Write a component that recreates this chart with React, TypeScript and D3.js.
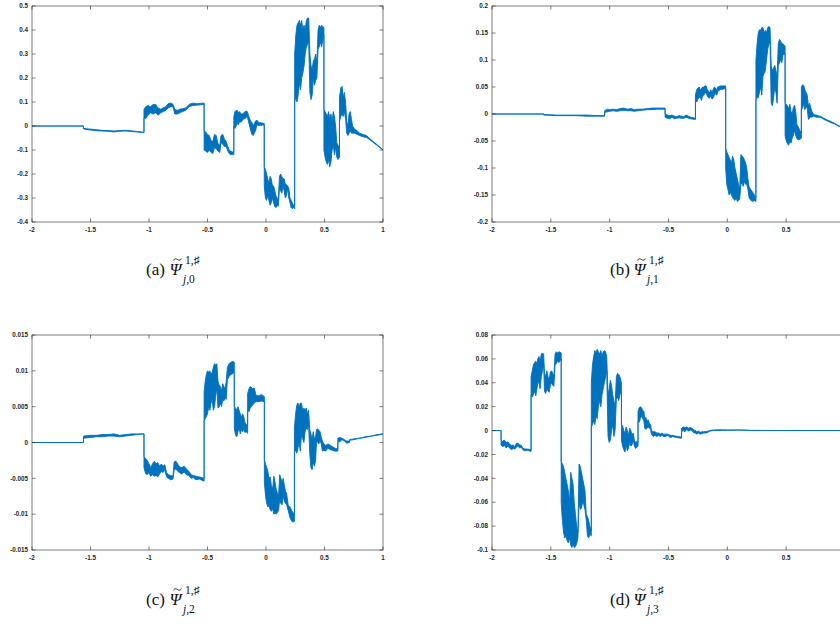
import React from "react";
import * as d3 from "d3";

type Pt = [number, number, number]; // [x, low, high]

const xTicks = [-2, -1.5, -1, -0.5, 0, 0.5, 1];
const yTicksA = [-0.4, -0.3, -0.2, -0.1, 0, 0.1, 0.2, 0.3, 0.4, 0.5];
const yTicksB = [-0.2, -0.15, -0.1, -0.05, 0, 0.05, 0.1, 0.15, 0.2];
const yTicksC = [-0.015, -0.01, -0.005, 0, 0.005, 0.01, 0.015];
const yTicksD = [-0.1, -0.08, -0.06, -0.04, -0.02, 0, 0.02, 0.04, 0.06, 0.08];

const psiA: Pt[] = [
  [-2, 0, 0], [-1.56, 0, 0], [-1.56, -0.012, -0.01], [-1.52, -0.016, -0.012], [-1.48, -0.018, -0.014],
  [-1.44, -0.02, -0.016], [-1.4, -0.021, -0.018], [-1.35, -0.022, -0.019], [-1.3, -0.025, -0.021],
  [-1.26, -0.022, -0.019], [-1.2, -0.021, -0.018], [-1.15, -0.023, -0.02], [-1.1, -0.025, -0.023],
  [-1.043, -0.028, -0.026],
  [-1.043, 0.033, 0.068], [-1.029, 0.03, 0.08], [-1.009, 0.045, 0.085], [-0.986, 0.055, 0.08],
  [-0.966, 0.05, 0.09], [-0.943, 0.055, 0.09], [-0.923, 0.045, 0.075], [-0.9, 0.055, 0.07],
  [-0.88, 0.06, 0.075], [-0.857, 0.065, 0.08], [-0.837, 0.075, 0.093], [-0.814, 0.08, 0.096],
  [-0.794, 0.08, 0.09], [-0.78, 0.05, 0.07], [-0.757, 0.05, 0.065], [-0.737, 0.055, 0.07],
  [-0.714, 0.06, 0.072], [-0.686, 0.065, 0.075], [-0.657, 0.08, 0.09], [-0.629, 0.085, 0.095],
  [-0.586, 0.087, 0.093], [-0.529, 0.09, 0.096],
  [-0.529, -0.1, -0.02], [-0.515, -0.105, -0.025], [-0.5, -0.11, -0.035], [-0.485, -0.1, -0.04],
  [-0.47, -0.11, -0.06], [-0.455, -0.115, -0.065], [-0.44, -0.09, -0.035], [-0.425, -0.095, -0.04],
  [-0.41, -0.105, -0.075], [-0.395, -0.11, -0.08], [-0.385, -0.07, -0.04], [-0.37, -0.075, -0.035],
  [-0.355, -0.085, -0.055], [-0.34, -0.085, -0.065], [-0.33, -0.1, -0.08], [-0.315, -0.115, -0.1],
  [-0.3, -0.12, -0.105], [-0.285, -0.118, -0.108], [-0.275, -0.12, -0.11],
  [-0.275, 0.0, 0.04], [-0.265, -0.01, 0.06], [-0.255, 0.0, 0.065], [-0.245, 0.01, 0.065],
  [-0.235, 0.005, 0.055], [-0.225, 0.02, 0.06], [-0.215, 0.015, 0.05], [-0.2, 0.025, 0.05],
  [-0.19, 0.03, 0.055], [-0.18, 0.03, 0.06], [-0.17, 0.035, 0.062], [-0.16, 0.04, 0.06],
  [-0.15, 0.02, 0.045], [-0.14, 0.0, 0.03], [-0.13, -0.02, 0.02], [-0.12, -0.035, 0.015],
  [-0.11, -0.04, 0.0], [-0.1, -0.03, 0.01], [-0.09, -0.02, 0.02], [-0.08, 0.0, 0.025],
  [-0.07, 0.005, 0.02], [-0.06, 0.0, 0.012], [-0.05, 0.005, 0.015], [-0.04, 0.0, 0.013],
  [-0.03, 0.005, 0.012], [-0.015, 0.003, 0.01],
  [-0.015, -0.25, -0.17], [-0.005, -0.3, -0.18], [0.005, -0.31, -0.2], [0.015, -0.29, -0.22],
  [0.025, -0.31, -0.24], [0.035, -0.33, -0.21], [0.045, -0.32, -0.22], [0.055, -0.3, -0.25],
  [0.065, -0.32, -0.25], [0.075, -0.335, -0.27], [0.085, -0.34, -0.29], [0.095, -0.33, -0.3],
  [0.105, -0.335, -0.31], [0.115, -0.26, -0.21], [0.125, -0.27, -0.2], [0.135, -0.28, -0.21],
  [0.145, -0.25, -0.22], [0.155, -0.27, -0.22], [0.165, -0.3, -0.24], [0.175, -0.29, -0.245],
  [0.185, -0.26, -0.25], [0.195, -0.3, -0.26], [0.205, -0.32, -0.3], [0.215, -0.34, -0.31],
  [0.225, -0.345, -0.32], [0.235, -0.34, -0.33], [0.245, -0.345, -0.33],
  [0.245, 0.1, 0.3], [0.255, 0.12, 0.38], [0.265, 0.1, 0.42], [0.275, 0.13, 0.43],
  [0.285, 0.18, 0.44], [0.295, 0.15, 0.42], [0.305, 0.2, 0.44], [0.315, 0.22, 0.4],
  [0.325, 0.25, 0.42], [0.335, 0.3, 0.4], [0.345, 0.33, 0.44], [0.355, 0.34, 0.45],
  [0.365, 0.35, 0.45], [0.375, 0.14, 0.3], [0.385, 0.11, 0.25], [0.395, 0.13, 0.24],
  [0.405, 0.2, 0.27], [0.415, 0.17, 0.28], [0.425, 0.19, 0.3], [0.435, 0.2, 0.26],
  [0.445, 0.32, 0.4], [0.455, 0.33, 0.42], [0.465, 0.35, 0.41], [0.475, 0.33, 0.42], [0.495, 0.38, 0.41],
  [0.495, -0.1, 0.07], [0.505, -0.13, 0.06], [0.515, -0.15, 0.05], [0.525, -0.16, 0.04],
  [0.535, -0.14, 0.06], [0.545, -0.17, 0.03], [0.555, -0.15, 0.05], [0.565, -0.1, 0.02],
  [0.575, -0.08, 0.06], [0.585, -0.12, 0.04], [0.595, -0.09, 0.0], [0.605, -0.13, -0.07],
  [0.615, -0.14, -0.08], [0.628, -0.13, -0.09],
  [0.628, 0.02, 0.12], [0.64, 0.04, 0.16], [0.65, 0.05, 0.165], [0.66, 0.04, 0.12],
  [0.67, 0.06, 0.14], [0.68, 0.03, 0.1], [0.69, -0.03, 0.02], [0.7, -0.04, 0.0],
  [0.71, -0.03, 0.05], [0.72, -0.02, 0.06], [0.73, -0.03, 0.03], [0.74, -0.03, 0.0],
  [0.76, -0.03, -0.015], [0.78, -0.035, -0.02], [0.8, -0.04, -0.03], [0.83, -0.045, -0.035],
  [0.86, -0.048, -0.04], [0.9, -0.062, -0.058], [0.95, -0.081, -0.078], [1.0, -0.1, -0.1],
];

const psiB: Pt[] = [
  [-2, 0, 0], [-1.56, 0, 0], [-1.56, -0.002, -0.001], [-1.45, -0.003, -0.002], [-1.3, -0.003, -0.002],
  [-1.2, -0.004, -0.002], [-1.1, -0.004, -0.003], [-1.043, -0.004, -0.003],
  [-1.043, 0.003, 0.006], [-1.02, 0.004, 0.009], [-1.0, 0.005, 0.008], [-0.97, 0.006, 0.009],
  [-0.94, 0.005, 0.008], [-0.91, 0.006, 0.01], [-0.88, 0.007, 0.011], [-0.85, 0.006, 0.009],
  [-0.82, 0.006, 0.01], [-0.79, 0.005, 0.008], [-0.76, 0.006, 0.009], [-0.72, 0.007, 0.009],
  [-0.68, 0.008, 0.01], [-0.64, 0.008, 0.011], [-0.6, 0.009, 0.011], [-0.529, 0.009, 0.011],
  [-0.529, -0.006, 0.0], [-0.51, -0.008, -0.002], [-0.49, -0.009, -0.003], [-0.47, -0.006, -0.002],
  [-0.45, -0.009, -0.004], [-0.43, -0.008, -0.005], [-0.41, -0.007, -0.003], [-0.39, -0.008, -0.004],
  [-0.37, -0.008, -0.005], [-0.35, -0.006, -0.002], [-0.33, -0.008, -0.004], [-0.31, -0.009, -0.006],
  [-0.271, -0.01, -0.008],
  [-0.271, 0.025, 0.035], [-0.26, 0.022, 0.045], [-0.25, 0.028, 0.048], [-0.24, 0.03, 0.05],
  [-0.23, 0.032, 0.045], [-0.22, 0.025, 0.047], [-0.21, 0.033, 0.05], [-0.2, 0.035, 0.05],
  [-0.19, 0.038, 0.052], [-0.18, 0.04, 0.052], [-0.17, 0.033, 0.045], [-0.16, 0.03, 0.042],
  [-0.15, 0.03, 0.04], [-0.14, 0.033, 0.045], [-0.13, 0.028, 0.04], [-0.12, 0.03, 0.046],
  [-0.11, 0.035, 0.05], [-0.1, 0.038, 0.048], [-0.09, 0.035, 0.045], [-0.08, 0.042, 0.05],
  [-0.06, 0.045, 0.052], [-0.04, 0.046, 0.052], [-0.014, 0.047, 0.052],
  [-0.014, -0.1, -0.063], [-0.005, -0.13, -0.07], [0.005, -0.14, -0.075], [0.015, -0.15, -0.08],
  [0.025, -0.145, -0.085], [0.035, -0.15, -0.09], [0.045, -0.155, -0.078], [0.055, -0.158, -0.085],
  [0.065, -0.16, -0.1], [0.075, -0.155, -0.11], [0.085, -0.162, -0.12], [0.095, -0.16, -0.13],
  [0.105, -0.158, -0.14], [0.115, -0.13, -0.075], [0.125, -0.128, -0.078], [0.135, -0.134, -0.08],
  [0.145, -0.125, -0.085], [0.155, -0.13, -0.09], [0.165, -0.13, -0.1], [0.175, -0.14, -0.12],
  [0.185, -0.155, -0.135], [0.2, -0.16, -0.14], [0.215, -0.162, -0.145], [0.23, -0.16, -0.15],
  [0.243, -0.162, -0.155],
  [0.243, 0.027, 0.1], [0.253, 0.03, 0.13], [0.263, 0.03, 0.15], [0.273, 0.04, 0.156],
  [0.283, 0.05, 0.155], [0.293, 0.035, 0.16], [0.303, 0.07, 0.16], [0.313, 0.075, 0.15],
  [0.323, 0.08, 0.155], [0.333, 0.1, 0.15], [0.343, 0.12, 0.16], [0.353, 0.13, 0.162],
  [0.363, 0.13, 0.16], [0.373, 0.02, 0.09], [0.383, 0.015, 0.08], [0.393, 0.03, 0.085],
  [0.403, 0.05, 0.09], [0.413, 0.04, 0.08], [0.423, 0.02, 0.07], [0.433, 0.09, 0.13],
  [0.443, 0.095, 0.138], [0.453, 0.1, 0.135], [0.463, 0.095, 0.13], [0.473, 0.11, 0.13],
  [0.491, 0.11, 0.125],
  [0.491, -0.04, 0.02], [0.501, -0.05, 0.018], [0.511, -0.055, 0.015], [0.521, -0.058, 0.01],
  [0.531, -0.05, 0.018], [0.541, -0.054, 0.005], [0.551, -0.045, 0.0], [0.561, -0.04, 0.012],
  [0.571, -0.03, 0.016], [0.581, -0.04, 0.005], [0.591, -0.045, -0.02], [0.601, -0.048, -0.023],
  [0.615, -0.047, -0.03], [0.629, -0.045, -0.035],
  [0.629, 0.01, 0.05], [0.639, 0.01, 0.054], [0.649, 0.02, 0.053], [0.659, 0.008, 0.045],
  [0.669, 0.015, 0.04], [0.679, 0.01, 0.035], [0.689, -0.01, 0.015], [0.699, -0.008, 0.02],
  [0.709, -0.005, 0.012], [0.719, -0.006, 0.005], [0.73, -0.004, 0.0], [0.745, -0.005, -0.002],
  [0.76, -0.006, -0.002], [0.78, -0.006, -0.004], [0.8, -0.007, -0.005], [0.82, -0.01, -0.008],
  [0.85, -0.013, -0.011], [0.88, -0.016, -0.014], [0.91, -0.018, -0.017], [0.94, -0.022, -0.021],
  [0.97, -0.025, -0.024], [1.0, -0.028, -0.028],
];

const psiC: Pt[] = [
  [-2, 0, 0], [-1.56, 0, 0], [-1.56, 0.0006, 0.0009], [-1.5, 0.0007, 0.001], [-1.45, 0.0008, 0.001],
  [-1.4, 0.0008, 0.0011], [-1.35, 0.0009, 0.0011], [-1.3, 0.0009, 0.0012], [-1.25, 0.0008, 0.001],
  [-1.2, 0.0009, 0.0011], [-1.15, 0.001, 0.0012], [-1.1, 0.0011, 0.0012], [-1.043, 0.0012, 0.0012],
  [-1.043, -0.0035, -0.002], [-1.03, -0.0043, -0.0022], [-1.015, -0.0045, -0.0025], [-1.0, -0.0042, -0.003],
  [-0.986, -0.0047, -0.0035], [-0.97, -0.0045, -0.003], [-0.955, -0.0047, -0.0026], [-0.94, -0.0046, -0.003],
  [-0.925, -0.0048, -0.0028], [-0.91, -0.0044, -0.0033], [-0.895, -0.004, -0.003], [-0.88, -0.0042, -0.0033],
  [-0.865, -0.0038, -0.0031], [-0.85, -0.0048, -0.0042], [-0.835, -0.005, -0.0045], [-0.815, -0.0052, -0.0046],
  [-0.795, -0.0051, -0.0047], [-0.785, -0.0038, -0.0027], [-0.77, -0.0037, -0.0026], [-0.755, -0.004, -0.003],
  [-0.74, -0.0042, -0.0034], [-0.72, -0.0044, -0.0035], [-0.7, -0.0041, -0.0033], [-0.68, -0.0045, -0.0037],
  [-0.66, -0.0046, -0.004], [-0.64, -0.005, -0.0045], [-0.62, -0.0049, -0.0046], [-0.6, -0.0052, -0.0047],
  [-0.57, -0.0051, -0.0048], [-0.529, -0.0054, -0.005],
  [-0.529, 0.003, 0.007], [-0.52, 0.0033, 0.0085], [-0.51, 0.0036, 0.0095], [-0.5, 0.004, 0.01],
  [-0.49, 0.005, 0.0098], [-0.48, 0.0045, 0.01], [-0.47, 0.0055, 0.0095], [-0.46, 0.006, 0.0098],
  [-0.45, 0.0045, 0.0105], [-0.44, 0.005, 0.011], [-0.43, 0.0065, 0.0108], [-0.42, 0.0075, 0.011],
  [-0.41, 0.0048, 0.0085], [-0.4, 0.005, 0.008], [-0.39, 0.0055, 0.0078], [-0.38, 0.005, 0.0072],
  [-0.37, 0.006, 0.0082], [-0.36, 0.0058, 0.0078], [-0.35, 0.0062, 0.0075], [-0.34, 0.006, 0.0085],
  [-0.33, 0.0088, 0.0105], [-0.315, 0.0092, 0.011], [-0.3, 0.0095, 0.0112], [-0.285, 0.0096, 0.0113],
  [-0.271, 0.0098, 0.0112],
  [-0.271, 0.002, 0.005], [-0.26, 0.001, 0.0048], [-0.25, 0.0008, 0.0045], [-0.24, 0.0015, 0.005],
  [-0.23, 0.002, 0.0045], [-0.22, 0.0012, 0.004], [-0.21, 0.0018, 0.0035], [-0.2, 0.0015, 0.004],
  [-0.19, 0.0018, 0.0036], [-0.18, 0.0014, 0.0028], [-0.17, 0.0015, 0.0025], [-0.157, 0.0013, 0.0024],
  [-0.157, 0.0045, 0.0068], [-0.145, 0.0043, 0.0075], [-0.135, 0.0048, 0.0078], [-0.125, 0.005, 0.0077],
  [-0.115, 0.0052, 0.0075], [-0.1, 0.0055, 0.0076], [-0.086, 0.0057, 0.0066], [-0.06, 0.0057, 0.0065],
  [-0.04, 0.0058, 0.0067], [-0.014, 0.0057, 0.0064],
  [-0.014, -0.0055, -0.0024], [-0.004, -0.0075, -0.003], [0.006, -0.0085, -0.0035], [0.016, -0.009, -0.004],
  [0.026, -0.0088, -0.005], [0.036, -0.0094, -0.0048], [0.046, -0.0096, -0.006], [0.057, -0.0092, -0.0065],
  [0.067, -0.01, -0.0047], [0.077, -0.0098, -0.0055], [0.087, -0.01, -0.0065], [0.097, -0.0098, -0.007],
  [0.107, -0.0095, -0.0075], [0.117, -0.008, -0.0045], [0.127, -0.0085, -0.005], [0.137, -0.0087, -0.0055],
  [0.147, -0.0075, -0.005], [0.157, -0.0082, -0.006], [0.167, -0.0085, -0.0068], [0.177, -0.0087, -0.0072],
  [0.19, -0.0095, -0.0088], [0.205, -0.0105, -0.009], [0.22, -0.011, -0.0095], [0.232, -0.0111, -0.0098],
  [0.243, -0.011, -0.0102],
  [0.243, -0.0015, 0.002], [0.253, -0.001, 0.004], [0.263, -0.0015, 0.0052], [0.273, -0.0008, 0.0055],
  [0.283, 0.0, 0.005], [0.293, -0.0012, 0.0055], [0.303, 0.001, 0.0055], [0.314, 0.0005, 0.0045],
  [0.324, 0.0, 0.0048], [0.334, 0.0015, 0.0045], [0.344, 0.002, 0.0048], [0.354, 0.0018, 0.004],
  [0.364, 0.0025, 0.0045], [0.374, -0.0015, 0.0018], [0.384, -0.0035, 0.0012], [0.394, -0.0038, 0.0005],
  [0.404, -0.0028, 0.0015], [0.414, -0.0033, 0.0005], [0.424, -0.0025, 0.0008], [0.432, 0.0002, 0.0018],
  [0.442, 0.0, 0.0019], [0.452, -0.0002, 0.0017], [0.462, 0.0003, 0.0015], [0.472, -0.0002, 0.0008],
  [0.482, -0.0012, 0.0002], [0.495, -0.0011, -0.0002], [0.51, -0.0012, -0.0004], [0.53, -0.0008, -0.0002],
  [0.55, -0.001, -0.0004], [0.57, -0.0011, -0.0006], [0.59, -0.0012, -0.0008], [0.614, -0.0012, -0.0009],
  [0.614, 0.0001, 0.0006], [0.63, 0.0001, 0.0007], [0.65, 0.0004, 0.0006], [0.67, 0.0002, 0.0004],
  [0.69, -0.0001, 0.0002], [0.714, 0.0, 0.0002], [0.714, 0.0003, 0.0004], [0.75, 0.0004, 0.0005],
  [0.8, 0.0006, 0.0006], [0.85, 0.0007, 0.0008], [0.9, 0.0009, 0.0009], [0.95, 0.001, 0.0011],
  [1.0, 0.0012, 0.0012],
];

const psiD: Pt[] = [
  [-2, 0, 0], [-1.923, 0, 0],
  [-1.923, -0.012, -0.008], [-1.91, -0.0135, -0.009], [-1.895, -0.0125, -0.008], [-1.88, -0.0145, -0.01],
  [-1.865, -0.013, -0.0095], [-1.852, -0.0145, -0.011], [-1.835, -0.016, -0.0125], [-1.82, -0.015, -0.012],
  [-1.805, -0.0155, -0.0135], [-1.795, -0.014, -0.011], [-1.78, -0.013, -0.0105], [-1.765, -0.0145, -0.012],
  [-1.75, -0.014, -0.0125], [-1.739, -0.016, -0.0145], [-1.72, -0.017, -0.0155], [-1.7, -0.0165, -0.0155],
  [-1.668, -0.0175, -0.016],
  [-1.668, 0.03, 0.045], [-1.658, 0.028, 0.05], [-1.648, 0.03, 0.055], [-1.638, 0.033, 0.057],
  [-1.628, 0.029, 0.058], [-1.618, 0.035, 0.056], [-1.611, 0.04, 0.06], [-1.601, 0.04, 0.062],
  [-1.591, 0.035, 0.058], [-1.581, 0.045, 0.064], [-1.571, 0.05, 0.065], [-1.561, 0.055, 0.064],
  [-1.554, 0.033, 0.048], [-1.544, 0.031, 0.045], [-1.534, 0.035, 0.05], [-1.524, 0.033, 0.045],
  [-1.514, 0.032, 0.043], [-1.504, 0.038, 0.049], [-1.494, 0.04, 0.05], [-1.484, 0.038, 0.048],
  [-1.474, 0.037, 0.045], [-1.464, 0.055, 0.064], [-1.454, 0.056, 0.066], [-1.444, 0.058, 0.065],
  [-1.43, 0.057, 0.066], [-1.412, 0.06, 0.065],
  [-1.412, -0.06, -0.026], [-1.402, -0.075, -0.028], [-1.392, -0.085, -0.03], [-1.382, -0.09, -0.035],
  [-1.372, -0.088, -0.04], [-1.362, -0.092, -0.045], [-1.352, -0.094, -0.05], [-1.341, -0.09, -0.06],
  [-1.331, -0.096, -0.035], [-1.321, -0.098, -0.04], [-1.311, -0.095, -0.045], [-1.301, -0.098, -0.06],
  [-1.291, -0.097, -0.07], [-1.281, -0.095, -0.08], [-1.27, -0.09, -0.085], [-1.26, -0.06, -0.028],
  [-1.25, -0.066, -0.03], [-1.24, -0.065, -0.035], [-1.23, -0.06, -0.04], [-1.22, -0.062, -0.045],
  [-1.21, -0.066, -0.05], [-1.199, -0.075, -0.07], [-1.189, -0.088, -0.072], [-1.179, -0.09, -0.075],
  [-1.169, -0.087, -0.08], [-1.156, -0.088, -0.084],
  [-1.156, 0.003, 0.04], [-1.146, 0.005, 0.055], [-1.136, 0.008, 0.062], [-1.126, 0.005, 0.067],
  [-1.116, 0.012, 0.065], [-1.106, 0.01, 0.068], [-1.096, 0.02, 0.066], [-1.085, 0.025, 0.064],
  [-1.075, 0.02, 0.067], [-1.065, 0.03, 0.062], [-1.055, 0.035, 0.066], [-1.045, 0.04, 0.067],
  [-1.035, 0.045, 0.066], [-1.025, 0.05, 0.062], [-1.014, -0.005, 0.03], [-1.004, -0.01, 0.035],
  [-0.994, -0.008, 0.042], [-0.984, 0.0, 0.038], [-0.974, 0.005, 0.03], [-0.964, -0.005, 0.025],
  [-0.954, 0.0, 0.02], [-0.943, 0.026, 0.045], [-0.933, 0.028, 0.048], [-0.923, 0.025, 0.047],
  [-0.913, 0.03, 0.045], [-0.9, 0.032, 0.04],
  [-0.9, -0.008, 0.005], [-0.89, -0.013, 0.004], [-0.88, -0.016, 0.0], [-0.87, -0.018, -0.002],
  [-0.86, -0.012, 0.003], [-0.85, -0.017, 0.0], [-0.84, -0.015, -0.004], [-0.83, -0.01, 0.002],
  [-0.82, -0.013, 0.0], [-0.81, -0.012, -0.004], [-0.8, -0.008, -0.002], [-0.79, -0.013, -0.008],
  [-0.78, -0.015, -0.01], [-0.77, -0.014, -0.009], [-0.759, -0.013, -0.01],
  [-0.759, 0.008, 0.016], [-0.749, 0.007, 0.019], [-0.739, 0.01, 0.02], [-0.729, 0.012, 0.019],
  [-0.719, 0.01, 0.017], [-0.709, 0.008, 0.016], [-0.702, 0.002, 0.01], [-0.692, 0.001, 0.011],
  [-0.682, 0.002, 0.008], [-0.672, 0.003, 0.009], [-0.662, 0.002, 0.006], [-0.652, 0.001, 0.005],
  [-0.645, -0.003, 0.0], [-0.63, -0.005, -0.001], [-0.615, -0.004, -0.001], [-0.6, -0.005, -0.002],
  [-0.585, -0.004, -0.002], [-0.57, -0.005, -0.003], [-0.555, -0.004, -0.002], [-0.545, -0.005, -0.003],
  [-0.525, -0.005, -0.003], [-0.505, -0.004, -0.003], [-0.485, -0.006, -0.004], [-0.465, -0.005, -0.004],
  [-0.445, -0.0055, -0.0045], [-0.42, -0.006, -0.005], [-0.389, -0.0065, -0.0055],
  [-0.389, -0.001, 0.002], [-0.375, 0.0, 0.003], [-0.36, -0.001, 0.0025], [-0.345, 0.001, 0.003],
  [-0.33, -0.0005, 0.002], [-0.315, 0.0005, 0.0025], [-0.3, 0.0, 0.002], [-0.285, -0.002, 0.0005],
  [-0.27, -0.002, 0.0], [-0.261, -0.003, -0.001], [-0.245, -0.002, -0.0005], [-0.23, -0.003, -0.0015],
  [-0.215, -0.0025, -0.001], [-0.2, -0.002, -0.001], [-0.176, -0.002, -0.0008], [-0.15, -0.0005, 0.0],
  [-0.12, 0.0, 0.0005], [-0.08, 0.0, 0.0006], [-0.04, 0.0002, 0.0006], [0.0, 0.0002, 0.0005],
  [0.05, 0.0003, 0.0005], [0.1, 0.0004, 0.0005], [0.15, 0.0002, 0.0004], [0.2, 0.0, 0.0002],
  [0.3, 0.0, 0.0001], [0.5, 0, 0], [1.0, 0, 0],
];

const panelLetters = ["a", "b", "c", "d"];
const panelSubs = ["0", "1", "2", "3"];

const COLOR = "#0072BD";
const AXIS = "#262626";
const CANVAS_W = 840;

const layouts = [
  { left: 32, top: 6, width: 351, height: 216, capX: 146, capY: 275 },
  { left: 492, top: 6, width: 353, height: 216, capX: 610, capY: 275 },
  { left: 32, top: 335, width: 351, height: 215, capX: 146, capY: 605 },
  { left: 492, top: 335, width: 353, height: 215, capX: 610, capY: 605 },
];

const series = [psiA, psiB, psiC, psiD];
const yTickSets = [yTicksA, yTicksB, yTicksC, yTicksD];

const fmt = (v: number) => String(Math.round(v * 100000) / 100000);

function Caption({ x0, y0, letter, sub }: { x0: number; y0: number; letter: string; sub: string }) {
  const cx = x0 + 31.5;
  const ty = y0 - 15.5;
  const tilde = `M${cx - 4},${ty + 0.9} C${cx - 2.8},${ty - 1.4} ${cx - 1.2},${ty - 0.8} ${cx},${ty} S${cx + 2.8},${ty + 1.4} ${cx + 4},${ty - 0.9}`;
  return (
    <g fontFamily="Liberation Serif, DejaVu Serif, serif" fill="#111">
      <text x={x0} y={y0} fontSize={17}>({letter})</text>
      <text x={x0 + 23.5} y={y0} fontSize={17} fontStyle="italic">Ψ</text>
      <path d={tilde} fill="none" stroke="#111" strokeWidth={0.9} />
      <text x={x0 + 39} y={y0 - 11} fontSize={11.5}>1,♯</text>
      <text x={x0 + 37} y={y0 + 8} fontSize={11.5}>
        <tspan fontStyle="italic">j</tspan>,{sub}
      </text>
    </g>
  );
}

function Panel({ idx }: { idx: number }) {
  const L = layouts[idx];
  const data = series[idx];
  const yt = yTickSets[idx];
  const x = d3.scaleLinear().domain([-2, 1]).range([L.left, L.left + L.width]);
  const y = d3.scaleLinear().domain([yt[0], yt[yt.length - 1]]).range([L.top + L.height, L.top]);
  const area = d3
    .area<Pt>()
    .x((d) => x(d[0]))
    .y0((d) => y(d[1]))
    .y1((d) => y(d[2]));
  const tl = 3.5;
  const bottom = L.top + L.height;
  const right = L.left + L.width;
  return (
    <g>
      <path d={area(data) || ""} fill={COLOR} stroke={COLOR} strokeWidth={0.9} strokeLinejoin="round" />
      <rect x={L.left} y={L.top} width={L.width} height={L.height} fill="none" stroke={AXIS} strokeWidth={0.6} />
      {xTicks.map((t) => (
        <g key={"x" + t}>
          <line x1={x(t)} x2={x(t)} y1={bottom} y2={bottom - tl} stroke={AXIS} strokeWidth={0.6} />
          <line x1={x(t)} x2={x(t)} y1={L.top} y2={L.top + tl} stroke={AXIS} strokeWidth={0.6} />
          {x(t) < CANVAS_W - 4 && (
            <text x={x(t)} y={bottom + 9.5} textAnchor="middle" fontSize={6.3} fontWeight="bold"
              fontFamily="Liberation Sans, Arial, sans-serif" fill={AXIS}>{fmt(t)}</text>
          )}
        </g>
      ))}
      {yt.map((t) => (
        <g key={"y" + t}>
          <line x1={L.left} x2={L.left + tl} y1={y(t)} y2={y(t)} stroke={AXIS} strokeWidth={0.6} />
          <line x1={right} x2={right - tl} y1={y(t)} y2={y(t)} stroke={AXIS} strokeWidth={0.6} />
          <text x={L.left - 4} y={y(t) + 2.2} textAnchor="end" fontSize={6.3} fontWeight="bold"
            fontFamily="Liberation Sans, Arial, sans-serif" fill={AXIS}>{fmt(t)}</text>
        </g>
      ))}
      <Caption x0={L.capX} y0={L.capY} letter={panelLetters[idx]} sub={panelSubs[idx]} />
    </g>
  );
}

export default function App() {
  return (
    <svg width={840} height={624} style={{ position: "absolute", left: 0, top: 0, background: "#fff" }}>
      <rect x={0} y={0} width={840} height={624} fill="#fff" />
      {[0, 1, 2, 3].map((i) => (
        <Panel key={i} idx={i} />
      ))}
    </svg>
  );
}
